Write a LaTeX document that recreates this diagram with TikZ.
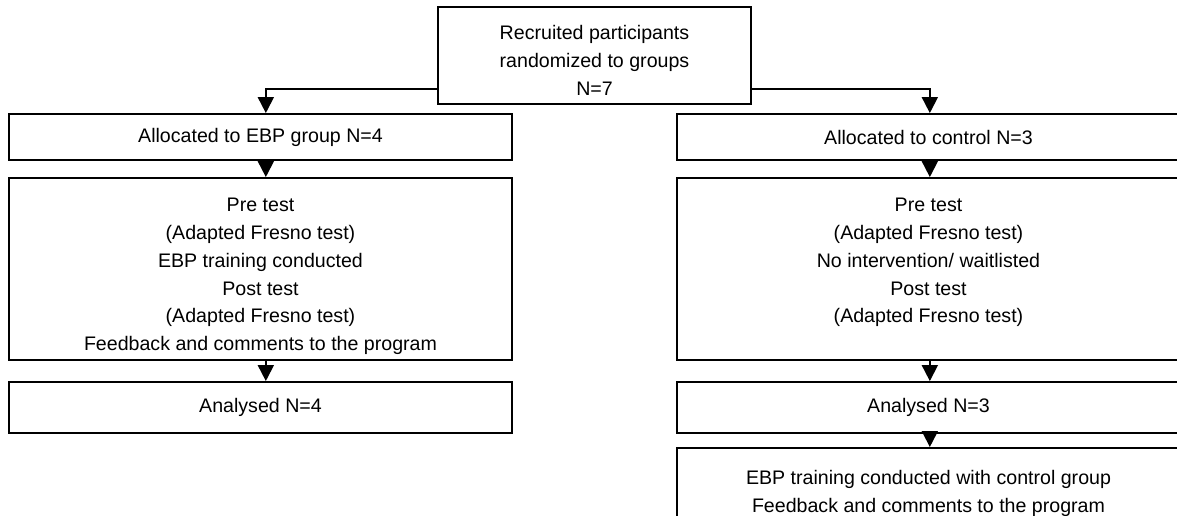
\documentclass[tikz,border=0pt]{standalone}
\usepackage{fontspec}
\setmainfont{Liberation Sans}
\usetikzlibrary{arrows.meta}

% text block hung from the top of a box: height, width, first baseline, lines
\newcommand{\topbox}[4]{\parbox[c][#1][t]{#2}{\centering\rule{0pt}{#3}#4}}

\begin{document}
\begin{tikzpicture}[x=0.75pt, y=-0.75pt,
    box/.style={draw, line width=1.4pt, inner sep=0pt, minimum width=377.25pt, align=center},
    flow/.style={line width=1.4pt, -{Triangle[width=12pt, length=12pt]}},
    every node/.style={font=\fontsize{14.7}{20.8}\selectfont}]
    \clip (0,0) rectangle (1177,516);

    \node[box, minimum width=234.75pt] (rec) at (594.5, 55.5)
        {\topbox{72.75pt}{234.75pt}{24.75pt}{Recruited participants\\ randomized to groups\\ N=7}};

%left: EBP group
    \node[box, minimum height=34.5pt] (eall) at (260.5, 137) {Allocated to EBP group N=4};
    \node[box] (epre) at (260.5, 269) {\topbox{136.5pt}{377.25pt}{25.5pt}{Pre test\\ (Adapted Fresno test)\\ EBP training conducted\\ Post test\\ (Adapted Fresno test)\\ Feedback and comments to the program}};
    \node[box, minimum height=38.25pt] (eana) at (260.5, 407.5) {Analysed N=4};

%right: control group
    \node[box, minimum height=34.5pt] (call) at (928.5, 137) {Allocated to control N=3};
    \node[box] (cpre) at (928.5, 269) {\topbox{136.5pt}{377.25pt}{25.5pt}{Pre test\\ (Adapted Fresno test)\\ No intervention/ waitlisted\\ Post test\\ (Adapted Fresno test)}};
    \node[box, minimum height=38.25pt] (cana) at (928.5, 407.5) {Analysed N=3};
    \node[box, anchor=north] (ctrain) at (928.5, 447) {\topbox{75pt}{377.25pt}{27.75pt}{EBP training conducted with control group\\ Feedback and comments to the program}};

    \draw[flow] ([yshift=12pt]rec.south west) -| ([xshift=4pt]eall.north);
    \draw[flow] ([yshift=12pt]rec.south east) -| ([xshift=1pt]call.north);
    \draw[flow] ([xshift=4pt]eall.south) -- ([xshift=4pt]epre.north);
    \draw[flow] ([xshift=4pt]epre.south) -- ([xshift=4pt]eana.north);
    \draw[flow] ([xshift=1pt]call.south) -- ([xshift=1pt]cpre.north);
    \draw[flow] ([xshift=1pt]cpre.south) -- ([xshift=1pt]cana.north);
    \draw[flow] ([xshift=1pt]cana.south) -- ([xshift=1pt]ctrain.north);
\end{tikzpicture}
\end{document}
